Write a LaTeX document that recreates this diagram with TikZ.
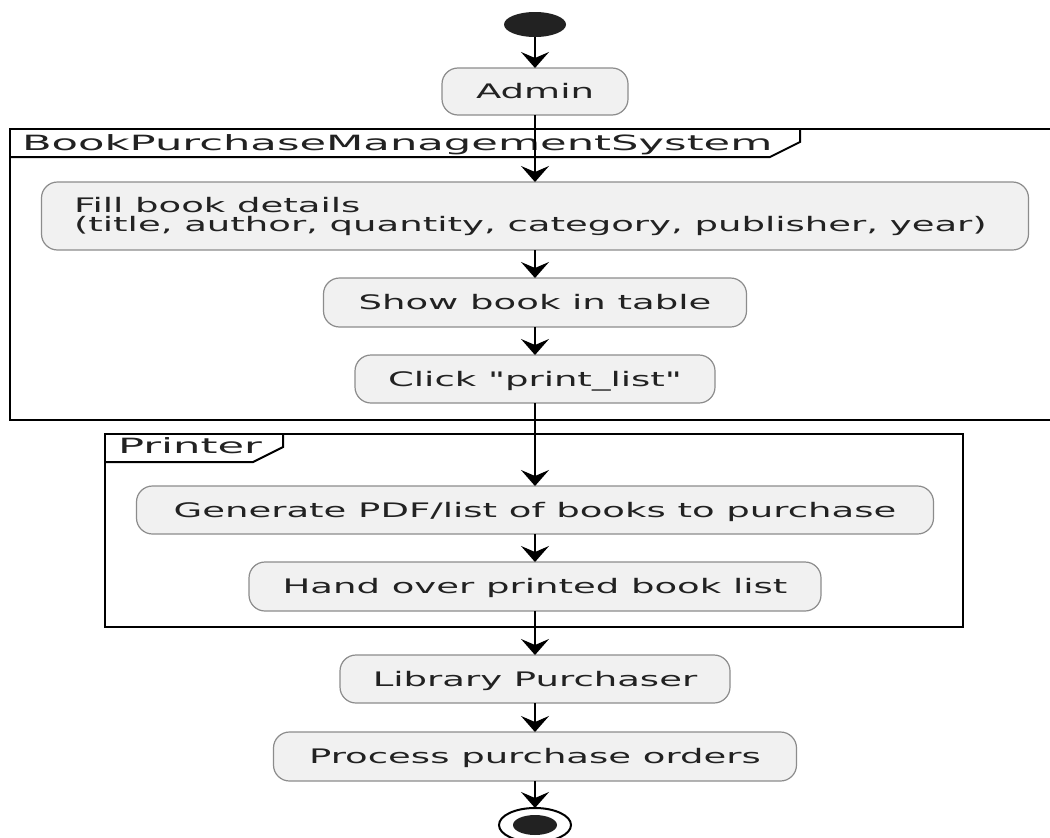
\documentclass[tikz,border=0pt]{standalone}
\usepackage{fontspec}
\setmainfont{DejaVu Sans}[FakeStretch=1.85, Ligatures=TeXOff]
\newfontfamily\framefont{DejaVu Sans}[FakeStretch=2.06, Ligatures=TeXOff]
\usetikzlibrary{arrows.meta,shapes.geometric}
\definecolor{boxfill}{HTML}{F1F1F1}
\definecolor{boxborder}{HTML}{8C8C8C}
\definecolor{textcol}{HTML}{222222}
\definecolor{startcol}{HTML}{222222}
\begin{document}
\begin{tikzpicture}[x=1pt,y=-1pt,
  actbox/.style={draw=boxborder, line width=1.2pt, fill=boxfill, rounded corners=16pt,
    inner sep=0pt, outer sep=0pt, text=textcol,
    font=\fontsize{20pt}{20pt}\selectfont, text height=14.6pt, text depth=0pt},
  linetext/.style={inner sep=0pt, outer sep=0pt, text=textcol,
    font=\fontsize{20pt}{20pt}\selectfont, anchor=base west},
  flow/.style={draw=black, line width=1.5pt, -{Stealth[length=16pt,width=28pt,inset=6pt]}},
  framebox/.style={draw=black, line width=2pt},
  framelabel/.style={font={\framefont\fontsize{21pt}{21pt}\selectfont}, text=textcol,
    inner sep=0pt, outer sep=0pt, anchor=base west}
]
\fill[white] (0,0) rectangle (1050,838);
\useasboundingbox (0,0) rectangle (1050,838);
\clip (0,0) rectangle (1050,838);

% frames
\draw[framebox] (10,129) rectangle (1060,420);
\draw[framebox] (10,157) -- (770,157) -- (800,142) -- (800,129);
\node[framelabel] (bpmslabel) at (22,150) {BookPurchaseManagementSystem};
\draw[framebox] (105,434) rectangle (963,627);
\draw[framebox] (105,462) -- (253,462) -- (283,447) -- (283,434);
\node[framelabel] (printerlabel) at (118,453) {Printer};

% start / end
\node[ellipse, fill=startcol, minimum width=62pt, minimum height=25pt, inner sep=0pt, outer sep=0pt] (start) at (535,24.5) {};
\node[ellipse, draw=black, line width=2pt, fill=white, minimum width=72pt, minimum height=34pt, inner sep=0pt, outer sep=0pt] (stop) at (535,825) {};
\fill[startcol] (stop.center) ellipse [x radius=22pt, y radius=10pt];

% activities
\node[actbox, minimum width=186pt, minimum height=47pt] (admin) at (535,91.5) {Admin};
\node[actbox, minimum width=987pt, minimum height=68pt] (fill) at (535,216) {};
\node[linetext] (fillA) at (74,212) {Fill book details};
\node[linetext] (fillB) at (74,231) {(title, author, quantity, category, publisher, year)};
\node[actbox, minimum width=423pt, minimum height=49pt] (show) at (535,302.5) {Show book in table};
\node[actbox, minimum width=360pt, minimum height=48pt] (click) at (535,379) {Click \symbol{34}print\_list\symbol{34}};
\node[actbox, minimum width=797pt, minimum height=48pt] (gen) at (535,510) {Generate PDF/list of books to purchase};
\node[actbox, minimum width=572pt, minimum height=49pt] (hand) at (535,586.5) {Hand over printed book list};
\node[actbox, minimum width=390pt, minimum height=48pt] (lib) at (535,679) {Library Purchaser};
\node[actbox, minimum width=523pt, minimum height=49pt] (proc) at (535,756.5) {Process purchase orders};

% flows
\draw[flow] (start.south) -- (admin.north);
\draw[flow] (admin.south) -- (fill.north);
\draw[flow] (fill.south) -- (show.north);
\draw[flow] (show.south) -- (click.north);
\draw[flow] (click.south) -- (gen.north);
\draw[flow] (gen.south) -- (hand.north);
\draw[flow] (hand.south) -- (lib.north);
\draw[flow] (lib.south) -- (proc.north);
\draw[flow] (proc.south) -- (stop.north);
\end{tikzpicture}
\end{document}
